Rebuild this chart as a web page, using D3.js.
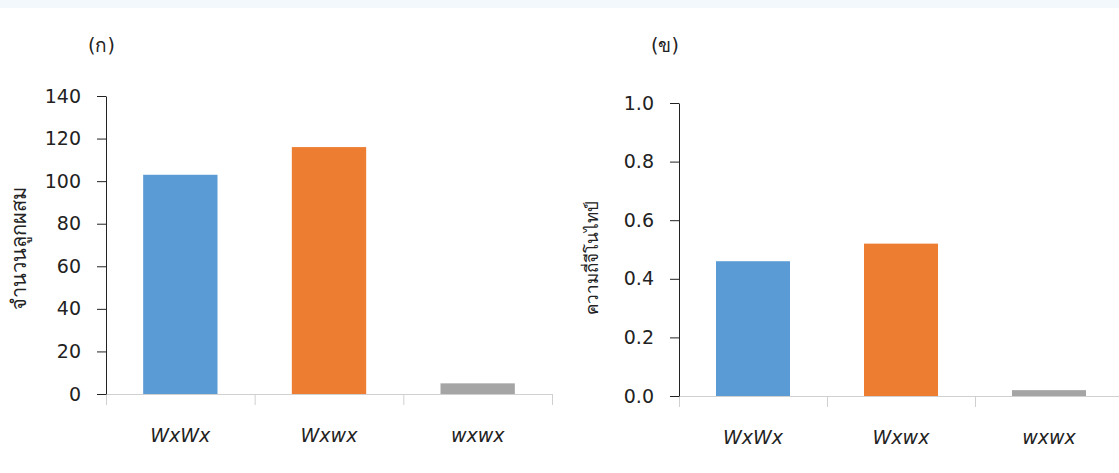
<!DOCTYPE html>
<html>
<head>
<meta charset="utf-8">
<script src="https://cdn.jsdelivr.net/npm/d3@7"></script>
<style>
    body { margin: 0; background: #fff; }
    svg text { font-family: "DejaVu Sans", Verdana, sans-serif; fill: #222; }
</style>
</head>
<body>
<div id="chart"></div>
<script>
// data
const categories = ["WxWx", "Wxwx", "wxwx"];
const barColors = ["#5b9bd5", "#ed7d31", "#a5a5a5"];
const hybridCounts = [103, 116, 5];
const genotypeFreq = [0.46, 0.52, 0.02];
const countTicks = [0, 20, 40, 60, 80, 100, 120, 140];
const freqTicks = [0, 0.2, 0.4, 0.6, 0.8, 1.0];

document.addEventListener("DOMContentLoaded", draw);

function draw() {
    const width = 1119,
        height = 473;

    const svg = d3
        .select("#chart")
        .append("svg")
        .attr("width", width)
        .attr("height", height);

    // faint band along the top edge of the scan
    svg.append("rect")
        .attr("x", 0).attr("y", 0)
        .attr("width", width).attr("height", 8)
        .attr("fill", "#f2f8fc");

    drawPanel(svg, {
        left: 106, top: 96, bottom: 394, plotW: 446,
        values: hybridCounts, ticks: countTicks, max: 140,
        fmt: d3.format("d"),
        title: "(ก)", titleX: 88,
        label: "จำนวนลูกผสม", labelX: 19, labelY: 248, labelSize: 20
    });

    drawPanel(svg, {
        left: 679, top: 103, bottom: 396, plotW: 444,
        values: genotypeFreq, ticks: freqTicks, max: 1,
        fmt: d3.format(".1f"),
        title: "(ข)", titleX: 651,
        label: "ความถี่จีโนไทป์", labelX: 592, labelY: 258, labelSize: 17
    });
}

function drawPanel(svg, o) {
    const g = svg.append("g");

    const x = d3
        .scaleBand()
        .domain(categories)
        .range([o.left, o.left + o.plotW])
        .paddingInner(0.5)
        .paddingOuter(0.25);

    const y = d3.scaleLinear().domain([0, o.max]).range([o.bottom, o.top]);

    // bars
    g.selectAll("rect.bar")
        .data(o.values)
        .enter()
        .append("rect")
        .attr("class", "bar")
        .attr("x", (d, i) => x(categories[i]))
        .attr("y", (d) => y(d))
        .attr("width", x.bandwidth())
        .attr("height", (d) => y(0) - y(d))
        .attr("fill", (d, i) => barColors[i]);

    // category axis: grey baseline with separator ticks between groups
    const step = x.step();
    const xAxis = g.append("g");
    xAxis.append("line")
        .attr("x1", o.left).attr("x2", o.left + o.plotW)
        .attr("y1", o.bottom + 0.5).attr("y2", o.bottom + 0.5)
        .attr("stroke", "#d0d0d0");
    xAxis.selectAll("line.sep")
        .data(d3.range(categories.length + 1))
        .enter()
        .append("line")
        .attr("class", "sep")
        .attr("x1", (d) => o.left + d * step + 0.5)
        .attr("x2", (d) => o.left + d * step + 0.5)
        .attr("y1", o.bottom)
        .attr("y2", o.bottom + 11)
        .attr("stroke", "#d0d0d0");
    xAxis.selectAll("text")
        .data(categories)
        .enter()
        .append("text")
        .attr("x", (d) => x(d) + x.bandwidth() / 2)
        .attr("y", o.bottom + 48)
        .attr("text-anchor", "middle")
        .style("font-size", "19px")
        .style("font-style", "italic")
        .text((d) => d);

    // value axis
    const yAxis = g
        .append("g")
        .attr("transform", `translate(${o.left},0)`)
        .call(
            d3.axisLeft(y)
                .tickValues(o.ticks)
                .tickFormat(o.fmt)
                .tickSize(9)
                .tickSizeOuter(0)
                .tickPadding(16)
        );
    yAxis.select(".domain").attr("stroke", "#222");
    yAxis.selectAll(".tick line").attr("stroke", "#222");
    yAxis.selectAll(".tick text")
        .style("font-size", "19px")
        .style("font-family", "'DejaVu Sans', Verdana, sans-serif")
        .attr("fill", "#222");

    // panel letter
    g.append("text")
        .attr("x", o.titleX)
        .attr("y", 52)
        .style("font-size", "19px")
        .text(o.title);

    // rotated axis title
    g.append("text")
        .attr("transform", `translate(${o.labelX},${o.labelY}) rotate(-90)`)
        .attr("text-anchor", "middle")
        .attr("dy", "0.35em")
        .style("font-size", o.labelSize + "px")
        .text(o.label);
}
</script>
</body>
</html>
